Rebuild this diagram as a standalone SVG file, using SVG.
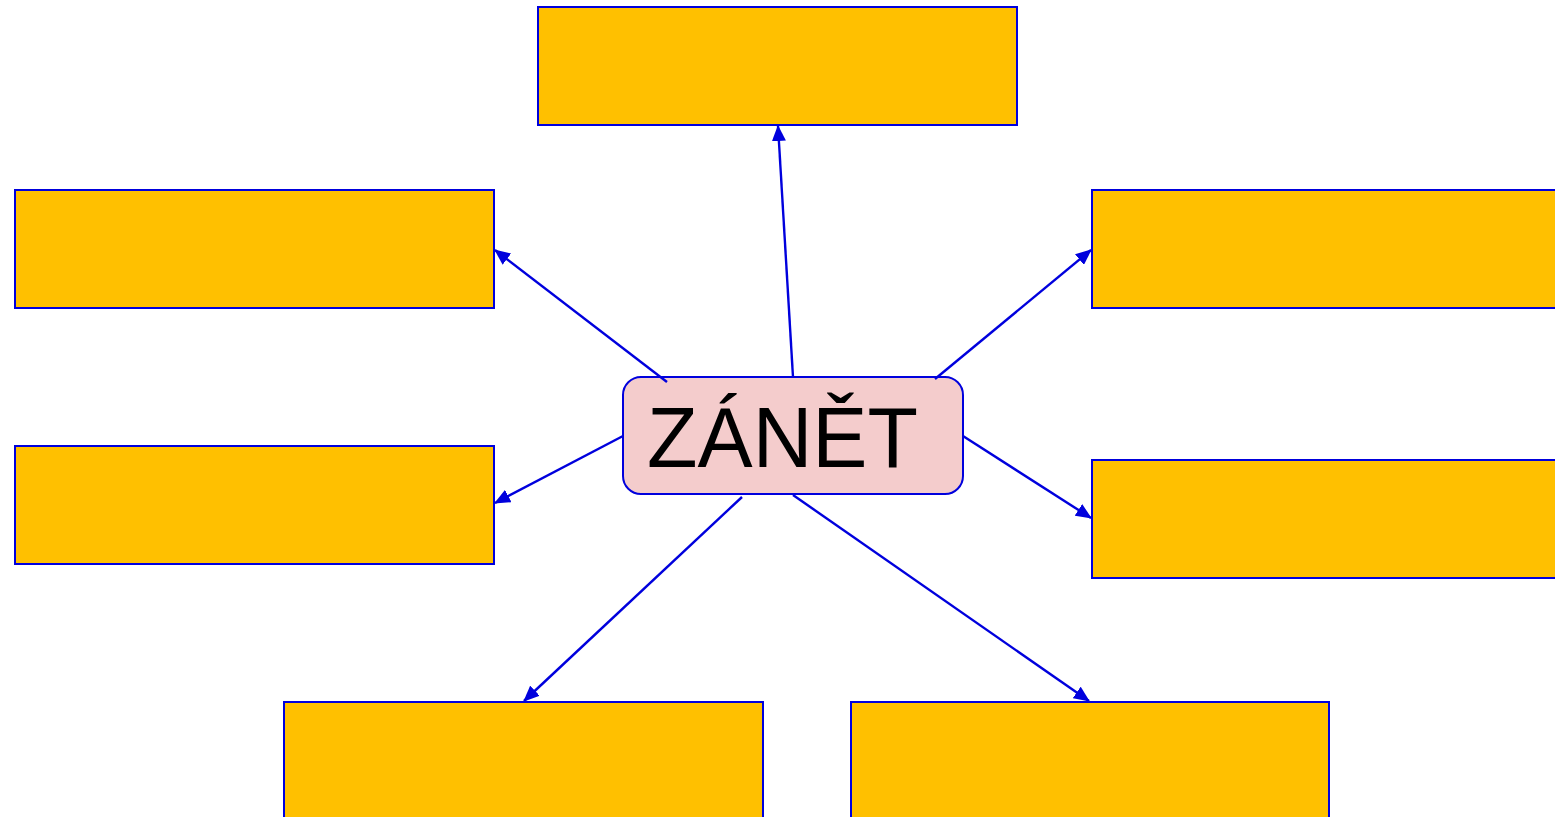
<svg xmlns="http://www.w3.org/2000/svg" width="1555" height="817" viewBox="0 0 1555 817">
<defs>
<style>
.box{fill:#FFC000;stroke:#0000DD;stroke-width:2}
.ctr{fill:#F4CCCC;stroke:#0000DD;stroke-width:2}
.con{stroke:#0000DD;stroke-width:2.4;fill:none;marker-end:url(#ah)}
.lbl{font-family:"Liberation Sans",Arial,sans-serif;font-size:86px;fill:#000}
</style>
<marker id="ah" viewBox="0 0 16 14" refX="15" refY="7" markerWidth="16" markerHeight="14" markerUnits="userSpaceOnUse" orient="auto">
<path d="M0,0 L16,7 L0,14 z" fill="#0000DD"/>
</marker>
</defs>
<rect width="1555" height="817" fill="#fff"/>
<g id="n-top"><rect class="box" x="538" y="7" width="479" height="118"/></g>
<g id="n-left1"><rect class="box" x="15" y="190" width="479" height="118"/></g>
<g id="n-right1"><rect class="box" x="1092" y="190" width="479" height="118"/></g>
<g id="n-left2"><rect class="box" x="15" y="446" width="479" height="118"/></g>
<g id="n-right2"><rect class="box" x="1092" y="460" width="479" height="118"/></g>
<g id="n-bottom1"><rect class="box" x="284" y="702" width="479" height="130"/></g>
<g id="n-bottom2"><rect class="box" x="851" y="702" width="478" height="130"/></g>
<g id="n-center">
<rect class="ctr" x="623" y="377" width="340" height="117" rx="18" ry="18"/>
<text class="lbl" x="647" y="467" textLength="271" lengthAdjust="spacingAndGlyphs">ZÁNĚT</text>
</g>
<g id="connectors">
<line class="con" x1="793" y1="377" x2="778" y2="126"/>
<line class="con" x1="667" y1="382" x2="495" y2="250"/>
<line class="con" x1="623" y1="436" x2="495" y2="503"/>
<line class="con" x1="935" y1="379" x2="1091" y2="250"/>
<line class="con" x1="963" y1="436" x2="1091" y2="518"/>
<line class="con" x1="742" y1="497" x2="524" y2="701"/>
<line class="con" x1="793" y1="495" x2="1089" y2="701"/>
</g>
</svg>
